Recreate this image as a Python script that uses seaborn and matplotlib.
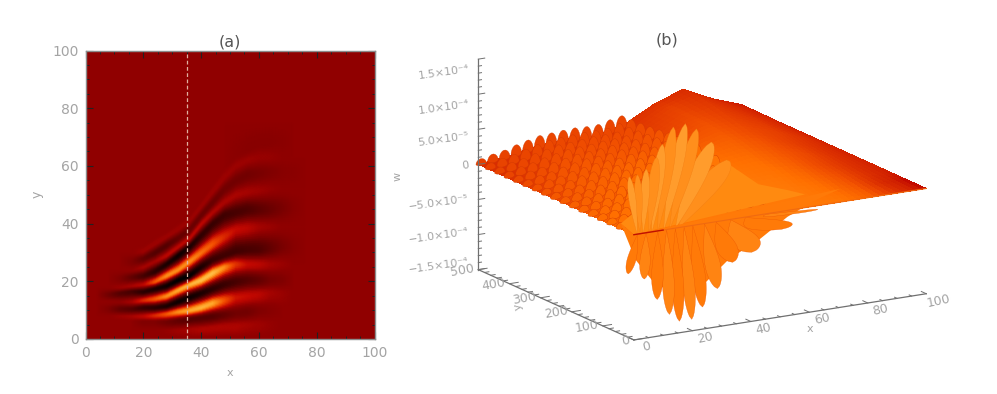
import numpy as np
import matplotlib
matplotlib.use("Agg")
import matplotlib.pyplot as plt
import seaborn as sns
from matplotlib.colors import LinearSegmentedColormap
from mpl_toolkits.mplot3d import proj3d
from mpl_toolkits.mplot3d.art3d import Poly3DCollection

# panel (a): bands read by eye, y position and value of every band at the columns of band_x
band_x = [4, 8, 12, 16, 20, 24, 28, 32, 36, 40, 44, 48, 52, 56, 60, 64, 68, 72, 76]
y_base = [0] * 19
v_base = [0] * 19
y_e = [3, 3, 3, 3, 3, 3, 3, 3, 3.5, 3.5, 4, 4.5, 4.5, 5, 5, 5, 5, 5, 5]
v_e = [0, 0, 0, 0, 0, 0, .3, .7, 1, 1.4, 1.4, 1.4, 1.4, 1, .7, .3, 0, 0, 0]
y_d1 = [6, 6, 6, 6, 6, 6, 6, 6.5, 7, 7.5, 8, 8.5, 9, 9.5, 10, 10, 10, 10, 10]
v_d1 = [0, 0, 0, 0, -1, -1, -2, -3, -4, -4, -4, -3, -2, -2, -1, -.5, 0, 0, 0]
y_a = [8, 8, 8, 8, 8, 8.3, 8.8, 9.5, 10, 11, 12.5, 13.5, 14.5, 15, 15.5, 16, 16, 16, 16]
v_a = [0, 0, .5, 1, 2, 4, 6, 8, 9, 9.5, 9, 6, 3, 2.5, 2, 1, .5, 0, 0]
y_ab = [10.5, 10.5, 10.5, 10.5, 11, 11, 11.5, 13, 14.5, 16, 17.5, 19, 20, 20.5, 20.5, 20.5, 20.5, 20.5, 20.5]
v_ab = [0, -1, -3, -4, -6, -7, -8, -9, -9, -8, -7, -6, -5, -4, -3, -1.5, -1, 0, 0]
y_b = [13, 13, 13, 13, 13.5, 14, 15, 17, 19, 20.5, 23, 25, 26, 26, 26, 26, 26, 26, 26]
v_b = [0, 0, 0, 1, 4, 6, 8, 9, 9.5, 10, 10, 8, 4.5, 2.5, 2, 1, .5, 0, 0]
y_bc = [15.5, 15.5, 16, 16.5, 16.5, 17.5, 18.5, 20.5, 22, 25, 27.5, 29, 30.5, 31, 31, 31.5, 32, 32, 32]
v_bc = [0, -2, -4, -5, -7, -8, -9, -10, -10, -8, -6, -5.5, -5.5, -5, -4.5, -3, -1.5, -.5, 0]
y_c = [18, 18, 18, 18.5, 19, 20, 22, 24, 27, 30, 33, 35.5, 38, 38.5, 39, 39, 39, 39, 39]
v_c = [0, 0, .5, 1, 2, 6, 8, 8, 8, 7, 6, 4, 2.5, 2, 1, .5, 0, 0, 0]
y_cd = [21, 21, 21, 21.5, 22, 23.5, 26, 29, 32, 36, 40, 43, 44, 45, 45, 45, 45.5, 45.5, 45.5]
v_cd = [0, 0, -1, -3, -5, -7, -8, -9, -8, -6.5, -6, -5.5, -5, -4.5, -3.5, -2.5, -1.5, -.5, 0]
y_d = [24, 24, 24, 24, 25, 27, 29, 32, 35, 40, 44, 47.5, 50, 51, 51.5, 52, 52, 52, 52]
v_d = [0, 0, 0, 0, 1, 1, 2, 2, 2, 2, 1.5, 1.2, 1.2, 1, .7, .3, 0, 0, 0]
y_de = [27, 27, 27, 27, 28, 30, 32.5, 35, 38, 43, 47.5, 52, 55, 57, 57.5, 58, 58, 58, 58]
v_de = [0, 0, 0, -1, -3, -4, -4, -3, -2.5, -2.5, -2.5, -2, -2, -2, -1.5, -1, -.5, -.3, 0]
y_f = [30, 30, 30, 30, 30.5, 33, 35.5, 38, 41, 46, 51, 56, 60, 62, 63, 63, 63, 63, 63]
v_f = [0, 0, 0, 0, .6, .6, .6, .6, .6, .6, .6, .6, .6, .6, .4, .3, 0, 0, 0]
y_g = [33, 33, 33, 33, 33, 36, 38, 41, 44, 49, 55, 60, 64, 66, 68, 68.5, 68.5, 68.5, 68.5]
v_g = [0, 0, 0, 0, 0, 0, 0, 0, 0, 0, 0, 0, -.3, -.5, -.5, -.5, -.3, 0, 0]
y_top = [75] * 19
v_top = [0] * 19
band_y = [y_base, y_e, y_d1, y_a, y_ab, y_b, y_bc, y_c, y_cd, y_d, y_de, y_f, y_g, y_top]
band_v = [v_base, v_e, v_d1, v_a, v_ab, v_b, v_bc, v_c, v_cd, v_d, v_de, v_f, v_g, v_top]
ticks_a = [0, 20, 40, 60, 80, 100]

# panel (b): body of the surface, rows y=0..500 in steps of 50, columns x=0..100 in steps of 10 (units of 1e-4)
body_x = [0, 10, 20, 30, 40, 50, 60, 70, 80, 90, 100]
body_y = [0, 50, 100, 150, 200, 250, 300, 350, 400, 450, 500]
body_z = [
    [0, 0, 0, 0, 0, 0, 0, 0, 0, 0, 0],
    [0, .01, .01, .02, .04, .06, .07, .06, .04, .02, 0],
    [0, .01, .03, .05, .09, .14, .16, .13, .09, .04, 0],
    [0, .02, .05, .08, .14, .22, .25, .21, .14, .07, 0],
    [0, .03, .06, .10, .17, .28, .33, .29, .20, .10, 0],
    [0, .03, .08, .11, .18, .32, .40, .37, .26, .13, 0],
    [0, .04, .09, .12, .18, .32, .45, .44, .32, .17, 0],
    [0, .04, .10, .13, .17, .30, .48, .50, .37, .20, 0],
    [0, .05, .11, .14, .16, .27, .48, .56, .40, .23, 0],
    [0, .05, .12, .15, .15, .25, .48, .60, .42, .25, 0],
    [0, .05, .13, .16, .14, .24, .46, .61, .41, .26, 0],
]
# colour position of the body on the same grid, 0 light orange, 1 dark red
body_tone = [
    [.35, .3, .25, .2, .2, .2, .2, .25, .4, .7, 1],
    [.35, .3, .25, .2, .2, .2, .2, .3, .45, .75, 1],
    [.4, .35, .3, .25, .2, .2, .25, .35, .5, .7, .9],
    [.45, .4, .35, .3, .25, .25, .3, .4, .55, .7, .85],
    [.5, .45, .4, .35, .3, .3, .35, .45, .55, .7, .85],
    [.55, .5, .45, .4, .35, .35, .4, .5, .6, .7, .85],
    [.6, .55, .5, .45, .45, .45, .45, .55, .6, .7, .85],
    [.65, .6, .55, .55, .55, .55, .5, .6, .65, .75, .85],
    [.7, .65, .6, .6, .6, .6, .55, .65, .7, .8, .9],
    [.72, .7, .65, .65, .65, .65, .6, .7, .75, .85, .9],
    [.75, .72, .7, .7, .7, .7, .7, .75, .85, .9, .95],
]

# mass above and below the front edge, the lobes sit on it
upper_mass_x = [3, 12, 20, 30, 40, 50, 60, 66]
upper_mass_z = [0, .25, .35, .5, .6, .25, .1, 0]
lower_mass_x = [3, 8, 14, 22, 30, 40, 50, 60, 70, 78]
lower_mass_z = [0, -.55, -.9, -1.15, -1.1, -.75, -.55, -.28, -.1, 0]
mass_y = 70

# lobes above the front edge: foot on the edge, tip (x, y, z), half width in x
upper_foot = [15, 14, 12, 10, 8, 6, 5, 3, 2, 1]
upper_x = [47.5, 42.3, 37.2, 33.4, 29.3, 25.5, 23.5, 20, 17, 14.2]
upper_y = [150, 150, 150, 150, 150, 150, 150, 150, 150, 150]
upper_z = [.46, .75, .97, 1.07, 1.05, .83, .66, .51, .45, .44]
upper_w = [5, 3.5, 2.6, 2.3, 2.2, 2, 1.8, 1.5, 1.3, 1.2]

# lobes hanging below the front edge
lower_foot = [45, 38, 33, 28, 24, 20, 17, 14, 11, 8, 4, 1]
lower_x = [64.7, 56.7, 46.5, 40, 34.8, 29.7, 26, 21.8, 18.4, 14.2, 9.8, 4.3]
lower_y = [60, 60, 60, 60, 60, 60, 60, 60, 60, 60, 60, 60]
lower_z = [-.22, -.41, -.67, -.77, -1.11, -1.34, -1.49, -1.49, -1.37, -1.13, -.81, -.70]
lower_w = [8, 7, 5, 3.5, 2.6, 2.2, 2, 2, 2, 2, 1.8, 1.6]

# small ripples on the left part of the surface
ripple_x = [1, 5, 9, 13, 17, 21, 25, 29, 33, 37, 41, 45, 49]
ripple_y = [500, 470, 440, 410, 380, 350, 320, 290, 260, 230, 200, 170, 140, 110, 80, 50]
ripple_amp = [.07, .09, .1, .12, .13, .14, .14, .14, .15, .15, .15, .15, .14]

z_label_at = [-1.43, -1.0, -.53, 0, .37, .83, 1.33]
z_labels = ["−1.5×10⁻⁴", "−1.0×10⁻⁴", "−5.0×10⁻⁵", "0", "5.0×10⁻⁵", "1.0×10⁻⁴", "1.5×10⁻⁴"]
y_ticks = [0, 100, 200, 300, 400, 500]
x_ticks = [0, 20, 40, 60, 80, 100]

GREY = "#a4a4a4"
DARK = "#555555"


def leaf(foot, tip_x, tip_y, tip_z, width):
    # leaf outline from a foot on the front edge out to the tip and back, fattest past the middle
    s = np.linspace(0, 1, 30)
    bulge = width * np.sin(np.pi * s ** 1.6) ** 0.6
    xs = np.r_[foot + (tip_x - foot) * s - bulge, (foot + (tip_x - foot) * s + bulge)[::-1]]
    ys = np.r_[tip_y * s, (tip_y * s)[::-1]]
    zs = np.r_[tip_z * s, (tip_z * s)[::-1]]
    return list(zip(xs, ys, zs))


def fine_bands(band_y, band_v, sub=10):
    # finer mesh between the read bands, so colours pass through the colormap and not straight RGB
    xf = np.linspace(band_x[0], band_x[-1], 145)
    ys = np.array([np.interp(xf, band_x, r) for r in band_y])
    vs = np.array([np.interp(xf, band_x, r) for r in band_v])
    t = np.linspace(0, 1, sub, endpoint=False)[:, None]
    ease = (1 - np.cos(np.pi * t)) / 2
    yo, vo = [], []
    for k in range(len(ys) - 1):
        yo.append(ys[k] + (ys[k + 1] - ys[k]) * t)
        vo.append(vs[k] + (vs[k + 1] - vs[k]) * ease)
    yo.append(ys[-1:])
    vo.append(vs[-1:])
    yo, vo = np.vstack(yo), np.vstack(vo)
    return np.tile(xf, (len(yo), 1)), yo, vo


def fine_grid(rows, xf, yf):
    a = np.array([np.interp(xf, body_x, r) for r in rows])
    return np.array([np.interp(yf, body_y, a[:, j]) for j in range(len(xf))]).T


fig = plt.figure(figsize=(9.97, 3.94), dpi=100)

# (a)
fire = LinearSegmentedColormap.from_list(
    "fire", [(0, "#000000"), (.5, "#8f0000"), (.62, "#c40800"), (.78, "#f24a00"), (.92, "#ff9a1e"), (1, "#ffc04a")])
background = np.zeros((100, 100))

ax = fig.add_axes([85.5 / 997, 1 - 339 / 394, 289 / 997, 288.5 / 394])
sns.heatmap(background, ax=ax, cmap=fire, vmin=-10, vmax=10, cbar=False, xticklabels=False, yticklabels=False)
mx, my, mv = fine_bands(band_y, band_v)
ax.pcolormesh(mx, my, mv, cmap=fire, vmin=-10, vmax=10, shading="gouraud")
ax.set_xlim(0, 100)
ax.set_ylim(0, 100)
ax.axvline(35, color="#e0b0a0", lw=.9, ls=(0, (3, 2)))
for sp in ax.spines.values():
    sp.set_visible(True)
    sp.set_color("#8c8c8c")
    sp.set_linewidth(1)
ax.set_xticks(ticks_a)
ax.set_xticklabels(ticks_a)
ax.set_yticks(ticks_a)
ax.set_yticklabels(ticks_a, rotation=0)
ax.set_xticks(range(0, 101, 5), minor=True)
ax.set_yticks(range(0, 101, 5), minor=True)
ax.tick_params(which="major", direction="in", length=5, width=.8, color="#222222", labelcolor=GREY,
               labelsize=10, top=True, right=True, pad=5)
ax.tick_params(which="minor", direction="in", length=2.5, width=.7, color="#222222", top=True, right=True)
ax.set_xlabel("x", color=GREY, fontsize=8, labelpad=6)
ax.set_ylabel("y", color=GREY, fontsize=9, labelpad=6)
ax.set_title("(a)", color=DARK, fontsize=11.5, pad=3)

# (b)
ax3 = fig.add_axes([.393, -.064, .61, 1.2], projection="3d", computed_zorder=False)
ax3.set_axis_off()
ax3.set_proj_type("ortho")
ax3.view_init(elev=15.5, azim=-120.6)
ax3.set_xlim(0, 100)
ax3.set_ylim(0, 500)
ax3.set_zlim(-1.5, 1.5)
ax3.set_box_aspect((339, 305, 218), zoom=1.04)

xf = np.linspace(0, 100, 51)
yf = np.linspace(0, 500, 41)
X, Y = np.meshgrid(xf, yf)
Zf = fine_grid(body_z, xf, yf)
Tf = fine_grid(body_tone, xf, yf)
body_cmap = LinearSegmentedColormap.from_list(
    "body", [(0, "#ff8c14"), (.3, "#ff7000"), (.5, "#f04e00"), (.7, "#dc3000"), (.85, "#d02000"), (1, "#bc0000")])
ax3.plot_surface(X, Y, Zf, facecolors=body_cmap(Tf[:-1, :-1]), rstride=1, cstride=1, shade=False, linewidth=0,
                 antialiased=False, zorder=1)


def body_height(x, y):
    row = [np.interp(x, body_x, r) for r in body_z]
    return np.interp(y, body_y, row)


# ripples, same tones as the body under them, a bit lighter
polys, cols = [], []
for yy in ripple_y:
    for xx, amp in zip(ripple_x, ripple_amp):
        base = body_height(xx, yy)
        s = np.linspace(0, np.pi, 12)
        px = np.r_[xx - 1.8 * np.cos(s), xx + 1.8 * np.cos(s)]
        pz = np.r_[base + amp * np.sin(s) ** 1.2, base - amp * .4 * np.sin(s)]
        polys.append(list(zip(px, np.full(px.size, yy), pz)))
        row = [np.interp(xx, body_x, r) for r in body_tone]
        cols.append(body_cmap(np.interp(yy, body_y, row) * .8))
ax3.add_collection3d(Poly3DCollection(polys, facecolors=cols, linewidths=.25, edgecolors="#d03800", zorder=2))

# mass of the fan
up = [(0, 0, 0)] + [(x, mass_y, z) for x, z in zip(upper_mass_x, upper_mass_z)]
ax3.add_collection3d(Poly3DCollection([up], facecolors="#ff8a10", linewidths=0, zorder=9))
low = [(0, 0, 0)] + [(x, mass_y, z) for x, z in zip(lower_mass_x, lower_mass_z)]
ax3.add_collection3d(Poly3DCollection([low], facecolors="#ff7a08", linewidths=0, zorder=29))

# fan of lobes
for i in range(len(upper_x)):
    c = "#ff9c2c" if i % 2 else "#ff8f1c"
    ax3.add_collection3d(Poly3DCollection([leaf(upper_foot[i], upper_x[i], upper_y[i], upper_z[i], upper_w[i])],
                                          facecolors=c, linewidths=.2, edgecolors="#f07a10", zorder=10 + i))
for i in range(len(lower_x)):
    c = "#ff7a08" if i % 2 else "#ff8412"
    ax3.add_collection3d(Poly3DCollection([leaf(lower_foot[i], lower_x[i], lower_y[i], lower_z[i], lower_w[i])],
                                          facecolors=c, linewidths=.2, edgecolors="#e85000", zorder=30 + i))
ax3.plot([0, 100], [0, 0], [0, 0], color="#f06a10", lw=.8, zorder=50)
ax3.plot([0, 10], [0, 0], [0, 0], color="#c01000", lw=1, zorder=51)

# axis frame and ticks
axc = "#707070"
ax3.plot([0, 0], [500, 500], [-1.5, 1.5], color=axc, lw=.9, zorder=60)
ax3.plot([0, 0], [0, 500], [-1.5, -1.5], color=axc, lw=.9, zorder=60)
ax3.plot([0, 100], [0, 0], [-1.5, -1.5], color=axc, lw=.9, zorder=60)
for t in np.arange(-1.5, 1.51, .1):
    ln = 2.2 if round(t * 10) % 5 == 0 else 1.1
    ax3.plot([0, ln], [500, 500], [t, t], color=axc, lw=.7, zorder=60)
for t in range(0, 501, 20):
    ln = 3 if t % 100 == 0 else 1.5
    ax3.plot([0, ln], [t, t], [-1.5, -1.5], color=axc, lw=.7, zorder=60)
for t in range(0, 101, 5):
    ln = 16 if t % 20 == 0 else 8
    ax3.plot([t, t], [0, ln], [-1.5, -1.5], color=axc, lw=.7, zorder=60)


def label3d(x, y, z, s, size, ha, rot):
    # tick labels as plain 2D texts at the projected spot
    ux, uy, _ = proj3d.proj_transform(x, y, z, ax3.get_proj())
    ax3.text2D(ux, uy, s, transform=ax3.transData, color=GREY, fontsize=size, ha=ha, va="center",
               rotation=rot, zorder=70)


for t, lab in zip(z_label_at, z_labels):
    label3d(-3, 500, t, lab, 8, "right", 8)
for t in y_ticks:
    label3d(-1, t, -1.5, str(t), 9, "right", 10)
for t in x_ticks:
    label3d(t, -40, -1.52, str(t), 9, "center", 12)

fig.text(667 / 997, 1 - 40 / 394, "(b)", color=DARK, fontsize=11.5, ha="center", va="center")
fig.text(398 / 997, 1 - 176 / 394, "w", color=GREY, fontsize=8, rotation=90, ha="center", va="center")
fig.text(518 / 997, 1 - 307 / 394, "y", color=GREY, fontsize=8, rotation=100, ha="center", va="center")
fig.text(810 / 997, 1 - 329 / 394, "x", color=GREY, fontsize=8, ha="center", va="center")

fig.savefig("out.png", dpi=100)
